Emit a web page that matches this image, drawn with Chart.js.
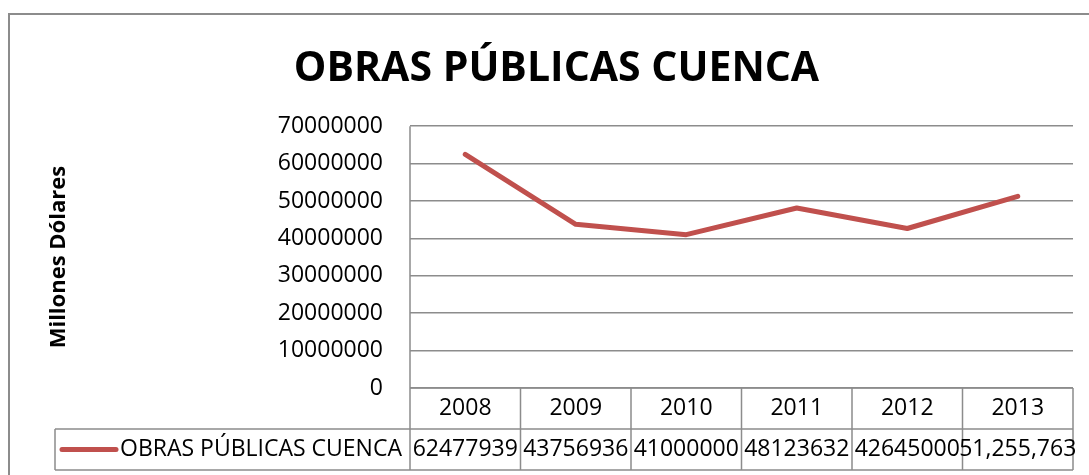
<html>

<head>
    <script src="https://cdn.jsdelivr.net/npm/chart.js@4"></script>
    <style>
        body {
            margin: 0;
            background: #fff;
        }
    </style>
</head>

<body>
    <canvas id="myChart" width="1089" height="475"></canvas>
    <script>
        // datos
        const years = ['2008', '2009', '2010', '2011', '2012', '2013'];
        const obras = [62477939, 43756936, 41000000, 48123632, 42645000, 51255763];
        const obrasText = ['62477939', '43756936', '41000000', '48123632', '42645000', '51,255,763'];
        const yTicks = [0, 10000000, 20000000, 30000000, 40000000, 50000000, 60000000, 70000000];
        const seriesName = 'OBRAS PÚBLICAS CUENCA';

        const gray = '#8c8c8c';
        const fam = "'Open Sans', sans-serif";
        const rowH = 41;

        const tabla = {
            id: 'tabla',
            beforeDraw(chart) {
                const ctx = chart.ctx;
                ctx.save();
                ctx.strokeStyle = gray;
                ctx.lineWidth = 2;
                ctx.beginPath();
                ctx.moveTo(9, 480);
                ctx.lineTo(9, 14);
                ctx.lineTo(1100, 14);
                ctx.stroke();
                ctx.restore();
            },
            afterDraw(chart) {
                const ctx = chart.ctx, a = chart.chartArea, x = chart.scales.x;
                const w = x.getPixelForValue(1) - x.getPixelForValue(0);
                const top = a.bottom, mid = top + rowH, bot = mid + rowH;
                const boxLeft = 55;
                ctx.save();
                ctx.strokeStyle = gray;
                ctx.lineWidth = 1.5;
                ctx.beginPath();
                // eje vertical y bordes de la tabla
                ctx.moveTo(a.left, a.top);
                ctx.lineTo(a.left, bot);
                ctx.moveTo(a.left, top);
                ctx.lineTo(a.right, top);
                ctx.moveTo(boxLeft, mid);
                ctx.lineTo(a.right, mid);
                ctx.moveTo(boxLeft, bot);
                ctx.lineTo(a.right, bot);
                ctx.moveTo(boxLeft, mid);
                ctx.lineTo(boxLeft, bot);
                years.forEach((y, i) => {
                    const r = x.getPixelForValue(i) + w / 2;
                    ctx.moveTo(r, top);
                    ctx.lineTo(r, bot);
                });
                ctx.stroke();

                ctx.fillStyle = '#000';
                ctx.font = '23px ' + fam;
                ctx.textAlign = 'center';
                ctx.textBaseline = 'middle';
                years.forEach((y, i) => {
                    const cx = x.getPixelForValue(i);
                    ctx.fillText(y, cx, (top + mid) / 2);
                    ctx.fillText(obrasText[i], cx, (mid + bot) / 2);
                });
                // leyenda dentro de la tabla
                const ds = chart.data.datasets[0];
                ctx.strokeStyle = ds.borderColor;
                ctx.lineWidth = 5;
                ctx.lineCap = 'round';
                ctx.beginPath();
                ctx.moveTo(62, (mid + bot) / 2);
                ctx.lineTo(116, (mid + bot) / 2);
                ctx.stroke();
                ctx.textAlign = 'left';
                ctx.fillText(ds.label, 120, (mid + bot) / 2);
                ctx.restore();
            }
        };

        const ctx = document.getElementById('myChart').getContext('2d');
        const myChart = new Chart(ctx, {
            type: 'line',
            data: {
                labels: years,
                datasets: [{
                    label: seriesName,
                    data: obras,
                    borderColor: '#c0504d',
                    backgroundColor: '#c0504d',
                    borderWidth: 5,
                    pointRadius: 0,
                    tension: 0,
                    fill: false,
                    borderCapStyle: 'round',
                    borderJoinStyle: 'round'
                }]
            },
            options: {
                responsive: false,
                animation: false,
                layout: {
                    padding: { left: 40, right: 16, top: 0, bottom: 0 }
                },
                plugins: {
                    legend: { display: false },
                    tooltip: { enabled: false },
                    title: {
                        display: true,
                        text: seriesName,
                        color: '#000',
                        font: { family: fam, size: 41, weight: 'bold' },
                        padding: { top: 45, bottom: 32 }
                    }
                },
                scales: {
                    x: {
                        offset: true,
                        grid: { display: false },
                        border: { display: false },
                        ticks: { display: false },
                        afterFit: (s) => { s.height = 475 - 388; }
                    },
                    y: {
                        min: 0,
                        max: 70000000,
                        afterBuildTicks: (s) => { s.ticks = yTicks.map(v => ({ value: v })); },
                        afterFit: (s) => { s.width = 370; },
                        border: { display: false },
                        grid: { color: gray, lineWidth: 1.5, drawTicks: false },
                        ticks: {
                            color: '#000',
                            padding: 27,
                            font: { family: fam, size: 23 },
                            callback: (v) => String(v)
                        },
                        title: {
                            display: true,
                            text: 'Millones Dólares',
                            color: '#000',
                            font: { family: fam, size: 22, weight: 'bold' },
                            padding: { top: 6, bottom: 0 }
                        }
                    }
                }
            },
            plugins: [tabla]
        });
    </script>
</body>

</html>
